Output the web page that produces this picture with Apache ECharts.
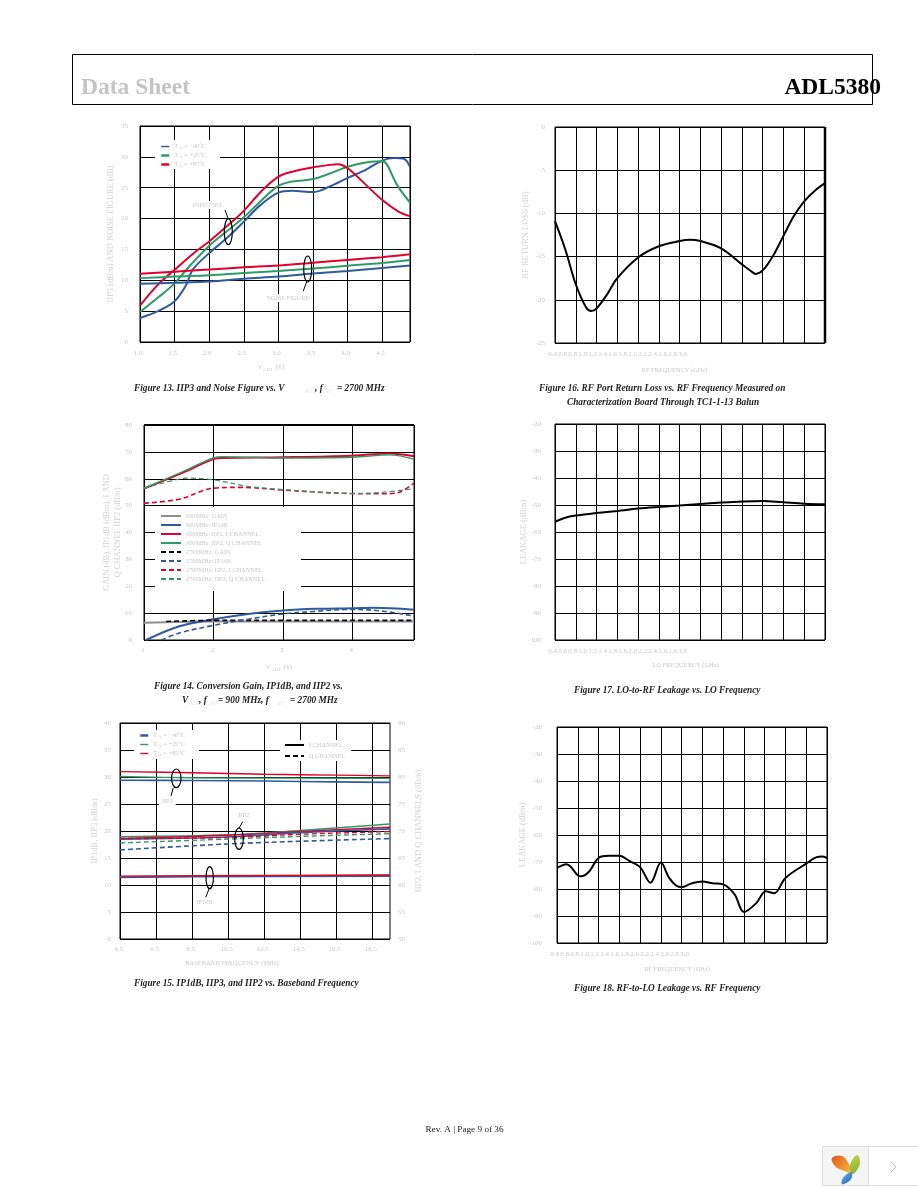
<!DOCTYPE html>
<html><head><meta charset="utf-8">
<style>html,body{margin:0;padding:0;background:#fff}#c{width:918px;height:1188px}</style>
<script src="https://cdn.jsdelivr.net/npm/echarts@6/dist/echarts.min.js"></script>
</head><body><div id="c"></div>
<script>
// ---------- Figure 13 ----------
const ip3NegX=[1,1.26,1.5,1.67,1.76,2,2.25,2.5,2.73,3,3.2,3.5,3.74,4,4.26,4.5,4.67,4.81,4.9];
const ip3Neg=[3.9,5,6.6,9.3,11.7,14.4,16.8,19.5,22.1,24.2,24.5,24.3,25.2,26.6,27.9,29.4,29.8,29.7,28.4];
const ip3AmbX=[1,1.26,1.5,1.72,2,2.25,2.5,2.75,3,3.2,3.5,3.74,4,4.26,4.5,4.57,4.71,4.9];
const ip3Amb=[4.85,7.2,9.5,12.35,15.6,17.9,20.2,22.9,25.3,26,26.4,27.3,28.4,29.1,29.3,28.7,25.5,22.6];
const ip3HotX=[1,1.26,1.5,1.81,2,2.25,2.5,2.75,3,3.2,3.5,3.74,3.86,4,4.26,4.5,4.74,4.9];
const ip3Hot=[5.9,9.3,11.7,14.7,16.3,18.7,21.25,24.4,26.8,27.6,28.3,28.7,28.8,28.15,25.5,23,21.1,20.4];
const nfX=[1,1.5,2,2.5,3,3.5,4,4.5,4.9];
const nfNeg=[9.45,9.6,9.8,10.25,10.6,11.1,11.5,12,12.4];
const nfAmb=[10.35,10.6,10.8,11.2,11.5,11.9,12.35,12.8,13.3];
const nfHot=[11.05,11.4,11.75,12.1,12.4,12.85,13.3,13.75,14.2];
const tempNames=['TA = −40°C','TA = +25°C','TA = +85°C'];
// ---------- Figure 14 ----------
const gain900X=[1,2,3,4,4.89];
const gain900=[6.4,6.9,6.9,6.9,6.9];
const ip900X=[1.03,1.51,2,2.5,3,3.49,4,4.3,4.89];
const ip900=[0,5.1,7.7,9.7,11,11.6,11.8,12,11.3];
const iip2X=[1,1.51,2,2.13,3,4,4.54,4.89];
const iip2I900=[56.3,61.7,67.3,67.7,68,68.6,69.4,68.4];
const iip2Q900=[56.5,62.1,67.8,68.2,67.7,68,68.9,67.3];
const gain2700X=[1.32,2,3,4,4.89];
const gain2700=[6.9,7.3,7.3,7.3,7.3];
const ip2700X=[1.25,1.51,2,2.47,3,3.49,4,4.45,4.89];
const ip2700=[0,2.6,5.45,7.6,9.7,10.7,11.4,10.7,8.9];
const iip2I2700X=[1,1.51,2,2.38,3,3.49,4,4.45,4.68,4.89];
const iip2I2700=[50.9,52.4,56.5,56.8,55.8,55,54.5,54.4,55,58.4];
const iip2Q2700X=[1,1.51,1.66,2,2.52,3,3.49,4,4.45,4.89];
const iip2Q2700=[56.5,59.9,60.2,59.6,57.1,56,55.1,54.5,55,56.3];
const f14Names=['900MHz: GAIN','900MHz: IP1dB','900MHz: IIP2, I CHANNEL','900MHz: IIP2, Q CHANNEL','2700MHz: GAIN','2700MHz: IP1dB','2700MHz: IIP2, I CHANNEL','2700MHz: IIP2, Q CHANNEL'];
// ---------- Figure 15 ----------
const f15xTicks=[4.5,6.5,8.5,10.5,12.5,14.5,16.5,18.5];
const bbIp3X=[4.5,8.5,12.5,16.5,19.5];
const bbIp3Hot=[31,30.8,30.5,30.35,30.2];
const bbIp3Amb=[30.1,29.85,29.8,29.78,29.75];
const bbIp3Neg=[29.4,29.35,29.25,29.1,29];
const bbX=[4.5,10.5,14.5,19.5];
const iI2Amb=[68.95,69.3,70.1,71.3];
const iI2Hot=[68.6,69.2,69.9,70.7];
const iI2Neg=[68.5,68.9,69.7,70.4];
const qI2Amb=[67.8,68.5,69,69.5];
const qI2Hot=[68.6,68.8,69.4,69.9];
const qI2Neg=[66.5,67.6,68.1,68.6];
const p1X=[4.5,8.5,19.5];
const p1Hot=[11.65,11.7,11.85];
const p1Amb=[11.55,11.6,11.8];
const p1Neg=[11.4,11.55,11.65];
// ---------- Figures 16-18 ----------
const freqTicks=[0.4,0.6,0.8,1.0,1.2,1.4,1.6,1.8,2.0,2.2,2.4,2.6,2.8,3.0];
const rlX=[0.4,0.5,0.6,0.7,0.75,0.8,0.9,1,1.2,1.4,1.6,1.7,1.8,2,2.2,2.3,2.33,2.4,2.5,2.6,2.7,2.8,2.9,3];
const rl=[-10.9,-14.2,-18.2,-20.9,-21.3,-21,-19.4,-17.5,-15.1,-13.8,-13.2,-13.05,-13.2,-14.05,-15.9,-16.8,-17,-16.6,-14.9,-12.6,-10.3,-8.6,-7.4,-6.5];
const loX=[0.4,0.49,0.6,0.8,1,1.2,1.4,1.6,1.8,2,2.2,2.4,2.6,2.8,3];
const lo=[-56.2,-54.8,-53.9,-53,-52.2,-51.3,-50.7,-50.2,-49.6,-49.1,-48.7,-48.5,-49,-49.5,-49.7];
const rfX=[0.4,0.49,0.6,0.63,0.71,0.8,0.9,1,1.1,1.2,1.3,1.4,1.48,1.55,1.6,1.69,1.8,1.9,2,2.11,2.2,2.32,2.41,2.49,2.6,2.8,2.9,2.95,3];
const rf=[-72.2,-70.8,-74.9,-75.3,-73.5,-68.5,-67.7,-67.7,-69.7,-71.9,-77.7,-70.2,-75.9,-78.8,-79.3,-78,-77.2,-77.9,-78.3,-82,-88.5,-85.2,-80.8,-81.6,-75.9,-70.6,-68.2,-68,-68.5];

const BLUE='#2f5b9e',GREEN='#2e9b66',RED='#e3002c',GRAY='#8f8f8f',BLACK='#000';
const FAINT='#c8c8c8',SERIF='"Liberation Serif",serif';
const zip=(x,y)=>x.map((v,i)=>[v,y[i]]);
const grid=(l,t,r,b)=>({left:l,top:t,width:r-l,height:b-t,show:true,borderColor:'#000',borderWidth:1,backgroundColor:'#fff'});
const lbl={color:FAINT,fontFamily:SERIF,fontSize:7};
const nameLbl={color:FAINT,fontFamily:SERIF,fontSize:6.4};
const sub={s:{fontSize:5,fontFamily:SERIF,color:FAINT,verticalAlign:'bottom',padding:[5,0,0,1]}};
const sp={show:true,lineStyle:{color:'#000',width:1}};
const noLine={show:false};

function xA(g,min,max,o){return Object.assign({type:'value',gridIndex:g,min,max,position:'bottom',axisLine:noLine,axisTick:noLine,splitLine:sp,
  nameLocation:'middle',nameTextStyle:Object.assign({},nameLbl,{rich:sub})},o);}
function yA(g,min,max,interval,name,margin,gap,extra){return Object.assign({type:'value',gridIndex:g,min,max,interval,name,nameLocation:'middle',nameGap:gap,nameMoveOverlap:false,
  nameRotate:90,nameTextStyle:Object.assign({},lbl,{color:'#d2d2d2',fontSize:8.5,lineHeight:11}),axisLine:noLine,axisTick:noLine,splitLine:sp,axisLabel:Object.assign({},lbl,{margin})},extra);}
function line(name,g,xi,yi,data,color,width,dash,smooth){return {type:'line',name,xAxisIndex:xi,yAxisIndex:yi,data,symbol:'none',smooth:smooth===undefined?0.35:smooth,clip:true,
  lineStyle:{color,width,type:dash?[5,3]:'solid'},itemStyle:{color},emphasis:{disabled:true},silent:true};}

const grids=[grid(140,126,410,342),grid(144,425,414,640),grid(120,723,390,939),
             grid(555,127,825,343),grid(555,424,825,640),grid(557,727,827,943)];

const xAxes=[
 xA(0,1,4.9,{interval:0.5,name:'V{s|ADJ}  (V)',nameGap:20,nameTextStyle:Object.assign({},nameLbl,{rich:sub,padding:[0,8,0,0]}),axisLabel:Object.assign({},lbl,{margin:8,padding:[0,4,0,0],showMaxLabel:false,formatter:v=>v.toFixed(1)})}),
 xA(1,1,4.89,{interval:1,name:'V{s|ADJ}  (V)',nameGap:22,axisLabel:Object.assign({},lbl,{margin:7,padding:[0,2,0,0],showMaxLabel:false,formatter:v=>String(v)})}),
 xA(2,4.5,19.5,{name:'BASEBAND FREQUENCY (MHz)',nameGap:21,nameTextStyle:Object.assign({},nameLbl,{padding:[0,46,0,0]}),
   axisTick:{show:false,customValues:f15xTicks},axisLabel:Object.assign({},lbl,{margin:7,padding:[0,3,0,0],customValues:f15xTicks,formatter:v=>v.toFixed(1)})}),
];
// Figures 16-18 have a data axis plus a label axis: their tick labels sit closer together than the gridlines.
const freqFig=[[3,'RF FREQUENCY (GHz)',24,31],[4,'LO FREQUENCY (GHz)',22,9],[5,'RF FREQUENCY (GHz)',23,30]];
freqFig.forEach(([g,name,gap,pad])=>{
  xAxes.push(xA(g,0.4,3.0,{interval:0.2,axisLabel:{show:false},name,nameGap:gap,nameTextStyle:Object.assign({},nameLbl,{padding:[0,pad,0,0]})}));
});
const labelAxisStart=xAxes.length;
freqFig.forEach(([g])=>{
  xAxes.push({type:'value',gridIndex:g,min:0.4,max:5.8,position:'bottom',axisLine:noLine,axisTick:noLine,splitLine:noLine,
    axisLabel:Object.assign({},lbl,{margin:8,padding:[0,5,0,0],customValues:freqTicks,formatter:v=>v.toFixed(1),hideOverlap:false})});
});

const yAxes=[
 yA(0,0,35,5,'IIP3 (dBm) AND NOISE FIGURE (dB)',12,24),
 yA(1,0,80,10,'GAIN (dB), IP1dB (dBm), I AND\nQ CHANNEL IIP2 (dBm)',12,20.5),
 yA(2,0,40,5,'IP1dB, IIP3 (dBm)',9,20),
 yA(2,50,90,5,'IIP2, I AND Q CHANNELS (dBm)',8,23,{position:'right',splitLine:noLine,nameRotate:90}),
 yA(3,-25,0,5,'RF RETURN LOSS (dB)',10,24),
 yA(4,-100,-20,10,'LEAKAGE (dBm)',14,26),
 yA(5,-100,-20,10,'LEAKAGE (dBm)',15,29),
];

const series=[
 line(tempNames[0],0,0,0,zip(ip3NegX,ip3Neg),BLUE,2),
 line(tempNames[1],0,0,0,zip(ip3AmbX,ip3Amb),GREEN,2),
 line(tempNames[2],0,0,0,zip(ip3HotX,ip3Hot),RED,2),
 line(tempNames[0],0,0,0,zip(nfX,nfNeg),BLUE,2),
 line(tempNames[1],0,0,0,zip(nfX,nfAmb),GREEN,2),
 line(tempNames[2],0,0,0,zip(nfX,nfHot),RED,2),

 line(f14Names[0],1,1,1,zip(gain900X,gain900),GRAY,2),
 line(f14Names[1],1,1,1,zip(ip900X,ip900),BLUE,2),
 line(f14Names[2],1,1,1,zip(iip2X,iip2I900),RED,2),
 line(f14Names[3],1,1,1,zip(iip2X,iip2Q900),GREEN,1.4),
 line(f14Names[4],1,1,1,zip(gain2700X,gain2700),BLACK,1.6,true),
 line(f14Names[5],1,1,1,zip(ip2700X,ip2700),BLUE,1.6,true),
 line(f14Names[6],1,1,1,zip(iip2I2700X,iip2I2700),RED,1.6,true),
 line(f14Names[7],1,1,1,zip(iip2Q2700X,iip2Q2700),GREEN,1.2,true),

 line(tempNames[0],2,2,2,zip(bbIp3X,bbIp3Neg),BLUE,1.6),
 line(tempNames[1],2,2,2,zip(bbIp3X,bbIp3Amb),GREEN,1.4),
 line(tempNames[2],2,2,2,zip(bbIp3X,bbIp3Hot),RED,1.4),
 line(tempNames[1],2,2,3,zip(bbX,iI2Amb),GREEN,1.4),
 line(tempNames[2],2,2,3,zip(bbX,iI2Hot),RED,1.4),
 line(tempNames[0],2,2,3,zip(bbX,iI2Neg),BLUE,1.6),
 line(tempNames[1],2,2,3,zip(bbX,qI2Amb),GREEN,1.4,true),
 line(tempNames[2],2,2,3,zip(bbX,qI2Hot),RED,1.4,true),
 line(tempNames[0],2,2,3,zip(bbX,qI2Neg),BLUE,1.6,true),
 line(tempNames[1],2,2,2,zip(p1X,p1Amb),GREEN,1.4),
 line(tempNames[0],2,2,2,zip(p1X,p1Neg),BLUE,1.6),
 line(tempNames[2],2,2,2,zip(p1X,p1Hot),RED,1.4),
 line('I CHANNEL',2,2,2,[],BLACK,1.8),
 line('Q CHANNEL',2,2,2,[],BLACK,1.8,true),

 line('Return loss',3,3,4,zip(rlX,rl),BLACK,2),
 line('LO leakage',4,4,5,zip(loX,lo),BLACK,2),
 line('RF leakage',5,5,6,zip(rfX,rf),BLACK,2),
];
// label axes need an (empty) owner series so their scales are built
[0,1,2].forEach(i=>series.push({type:'line',data:[],xAxisIndex:labelAxisStart+i,yAxisIndex:[4,5,6][i],silent:true}));

const tempFmt=n=>n.replace('TA','T{s|A}');
const legText={color:FAINT,fontFamily:SERIF,fontSize:6.3};
const hideDot={color:'rgba(0,0,0,0)',borderWidth:0,opacity:0};
function leg(left,top,names,o){return Object.assign({show:true,left,top,orient:'vertical',data:names,selectedMode:false,backgroundColor:'#fff',
  itemStyle:hideDot,itemWidth:8,itemHeight:7,itemGap:4,inactiveColor:'#fff',textStyle:legText,z:5},o);}
const tempText=Object.assign({},legText,{rich:sub,lineHeight:7});
const legends=[
 leg(155,140,[{name:tempNames[0],lineStyle:{color:BLUE,width:1.5}},{name:tempNames[1],lineStyle:{color:GREEN,width:2.5}},{name:tempNames[2],lineStyle:{color:RED,width:2.5}}],
    {padding:[3,14,1,5],itemGap:2,formatter:tempFmt,textStyle:tempText}),
 leg(155,507,f14Names,{padding:[6,36,9,5],itemWidth:20,itemGap:3}),
 leg(134,730,[{name:tempNames[0],lineStyle:{color:BLUE,width:2.5}},{name:tempNames[1],lineStyle:{color:GREEN,width:1.4}},{name:tempNames[2],lineStyle:{color:RED,width:1.4}}],
    {padding:[2,14,2,5],itemGap:2,formatter:tempFmt,textStyle:tempText}),
 leg(280,740,['I CHANNEL','Q CHANNEL'],{padding:[2,6,2,4],itemWidth:19,itemGap:5}),
];

// ----- page furniture and annotations -----
const g=[];
const T=(x,y,text,o)=>g.push({type:'text',x,y,z:20,style:Object.assign({text,fontFamily:SERIF,fontSize:6.3,fill:FAINT,align:'center',verticalAlign:'middle'},o)});
const L=(x1,y1,x2,y2,w,c)=>g.push({type:'line',z:19,shape:{x1,y1,x2,y2},style:{stroke:c||'#000',lineWidth:w||1}});
const E=(cx,cy,rx,ry)=>g.push({type:'ellipse',z:21,shape:{cx,cy,rx,ry},style:{fill:'none',stroke:'#000',lineWidth:1.2}});
const N=(x,y,t)=>T(x,y,t,{backgroundColor:'#fff',padding:[1,3,1,3]});
g.push({type:'rect',z:1,shape:{x:72.5,y:54.5,width:800,height:50},style:{fill:'none',stroke:'#000',lineWidth:1}});
T(81,88,'Data Sheet',{align:'left',fontSize:23.5,fontWeight:'bold',fill:'#c4c4c4'});
T(881,88,'ADL5380',{align:'right',fontSize:23.5,fontWeight:'bold',fill:'#000'});
T(464.5,1130,'Rev. A | Page 9 of 36',{fontSize:9.2,fill:'#222'});

const CAP=(x,y,text)=>g.push({type:'text',x,y,z:20,style:{text,fontFamily:SERIF,fontSize:9.3,fontStyle:'italic',fontWeight:'bold',fill:'#222',align:'left',verticalAlign:'middle'}});
const SUB=(x,y,text)=>g.push({type:'text',x,y,z:20,style:{text,fontFamily:SERIF,fontSize:6,fontStyle:'italic',fill:'#e8e8e8',align:'left',verticalAlign:'middle'}});
CAP(134,389,'Figure 13. IIP3 and Noise Figure vs. V'); SUB(305,391,'ADJ'); CAP(315,389,', f'); SUB(325,391,'RF'); CAP(337,389,'= 2700 MHz');
CAP(539,389,'Figure 16. RF Port Return Loss vs. RF Frequency Measured on');
CAP(567,403,'Characterization Board Through TC1-1-13 Balun');
CAP(154,687,'Figure 14. Conversion Gain, IP1dB, and IIP2 vs.');
CAP(182,701,'V'); SUB(189,703,'ADJ'); CAP(199,701,', f'); SUB(210,703,'RF'); CAP(218,701,'= 900 MHz, f'); SUB(277,703,'RF'); CAP(290,701,'= 2700 MHz');
CAP(574,691,'Figure 17. LO-to-RF Leakage vs. LO Frequency');
CAP(134,984,'Figure 15. IP1dB, IIP3, and IIP2 vs. Baseband Frequency');
CAP(574,989,'Figure 18. RF-to-LO Leakage vs. RF Frequency');

// Fig 13 annotations
N(207,205,'INPUT IP3'); L(225,210,228.3,219); E(228.3,231.7,4,13);
N(288,298,'NOISE FIGURE'); L(306.7,281.7,303.3,291); E(307.7,269,4,13);
// Fig 15 annotations
N(167.3,801,'IIP3'); L(173.3,787.7,171,796); E(176.3,778.3,4.7,9.3);
N(243.7,815,'IIP2'); L(239,828.3,242.7,821.7); E(239,838.7,4.3,10.7);
N(204.3,902.7,'IP1dB'); L(209.3,888.3,205.7,897.3); E(209.7,877.7,3.7,11);
// heavier frame edges
L(144,425,414,425,2); L(825,127,825,343,2.5);

// viewer chrome
g.push({type:'rect',z:1,shape:{x:822.5,y:1146.5,width:46,height:39},style:{fill:'#f5f5f5',stroke:'#dcdcdc',lineWidth:1}});
g.push({type:'rect',z:1,shape:{x:868.5,y:1146.5,width:52,height:39},style:{fill:'#fff',stroke:'#dcdcdc',lineWidth:1}});
g.push({type:'polyline',z:2,shape:{points:[[891,1162],[896,1167],[891,1172]]},style:{fill:'none',stroke:'#bbb',lineWidth:1}});
const grad=(a,b)=>({type:'linear',x:0,y:0,x2:1,y2:1,colorStops:[{offset:0,color:a},{offset:1,color:b}]});
g.push({type:'polygon',z:2,shape:{smooth:0.4,points:[[832,1158],[842,1156],[850,1166],[852,1173],[842,1170],[835,1166]]},style:{fill:grad('#e2541c','#f6c23a')}});
g.push({type:'polygon',z:2,shape:{smooth:0.4,points:[[857,1155],[860,1162],[857,1170],[852,1174],[850,1165]]},style:{fill:grad('#c7d64a','#7fb02c')}});
g.push({type:'polygon',z:2,shape:{smooth:0.4,points:[[851,1172],[852,1177],[848,1182],[842,1184],[843,1178]]},style:{fill:grad('#6ab6ea','#1c63b0')}});

const chart=echarts.init(document.getElementById('c'),null,{renderer:'canvas'});
chart.setOption({animation:false,backgroundColor:'#fff',textStyle:{fontFamily:SERIF},
  grid:grids,xAxis:xAxes,yAxis:yAxes,series,legend:legends,graphic:{elements:g}});
</script></body></html>
